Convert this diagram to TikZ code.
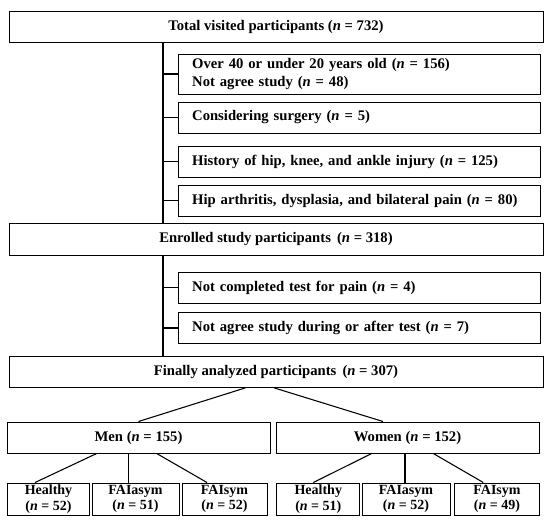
\documentclass[tikz,border=0pt]{standalone}
\usepackage{fontspec}
\setmainfont{Liberation Serif}
\usepackage{tikz}
\usetikzlibrary{calc}

\begin{document}
\begin{tikzpicture}[
    x=0.75pt, y=-0.75pt,
    box/.style={rectangle, draw, line width=0.75pt, align=center, inner sep=0pt, font=\fontsize{11}{13.5}\selectfont\bfseries},
    wide/.style={box, minimum width=400.5pt, minimum height=23pt},
    exbox/.style={box, align=left, text width=251pt, inner xsep=10.5pt, minimum height=23.25pt},
    sub/.style={box, minimum height=24pt, font=\fontsize{10.5}{11.5}\selectfont\bfseries},
    link/.style={line width=0.8pt}
]
\useasboundingbox (0,0) rectangle (550,522);
% main stages
\node[wide] (total) at (276,27) {Total visited participants (\textit{n} = 732)};
\node[wide, minimum height=24pt] (enr) at (276,239) {Enrolled study participants\, (\textit{n} = 318)};
\node[wide] (final) at (276,372) {Finally analyzed participants\, (\textit{n} = 307)};
% exclusions
\node[exbox, minimum height=30pt] (ex1) at (359.5,74) {Over 40 or under 20 years old (\textit{n} = 156)\\Not agree study (\textit{n} = 48)};
\node[exbox] (ex2) at (359.5,117.5) {Considering surgery (\textit{n} = 5)};
\node[exbox] (ex3) at (359.5,161.5) {History of hip, knee, and ankle injury (\textit{n} = 125)};
\node[exbox] (ex4) at (359.5,200.5) {Hip arthritis, dysplasia, and bilateral pain (\textit{n} = 80)};
\node[exbox] (ex5) at (359.5,287.5) {Not completed test for pain (\textit{n} = 4)};
\node[exbox] (ex6) at (359.5,328) {Not agree study during or after test (\textit{n} = 7)};
\coordinate (spine) at (163,0);
% groups
\node[box, minimum width=197.25pt, minimum height=23.25pt] (men) at (138.5,437.5) {Men (\textit{n} = 155)};
\node[box, minimum width=197.25pt, minimum height=23.25pt] (women) at (407.5,437.5) {Women (\textit{n} = 152)};
\node[sub, minimum width=61.5pt] (mh) at (48.5,499) {Healthy\\(\textit{n} = 52)};
\node[sub, minimum width=65.25pt] (ma) at (135.5,499) {FAIasym\\(\textit{n} = 51)};
\node[sub, minimum width=63.75pt] (ms) at (224.5,499) {FAIsym\\(\textit{n} = 52)};
\node[sub, minimum width=62.25pt] (wh) at (318.3,499) {Healthy\\(\textit{n} = 51)};
\node[sub, minimum width=66pt] (wa) at (406,499) {FAIasym\\(\textit{n} = 52)};
\node[sub, minimum width=63.75pt] (ws) at (497,499) {FAIsym\\(\textit{n} = 49)};
% connectors
\draw[link] (total.south -| spine) -- (enr.north -| spine);
\draw[link] (enr.south -| spine) -- (final.north -| spine);
\foreach \e in {ex1,ex2,ex3,ex4,ex5,ex6}
    \draw[link] (\e.west) -- (\e.west -| spine);
\draw[link] ($(final.south)+(-30.5,0)$) -- (men.north);
\draw[link] ($(final.south)+(-2,0)$) -- ($(women.north)+(-24.5,0)$);
\draw[link] ($(men.south)+(-41.8,0)$) -- ($(mh.north)+(-13.5,0)$);
\draw[link] ($(men.south)+(-10.2,0)$) -- ($(ma.north)+(-7.2,0)$);
\draw[link] ($(men.south)+(18.2,0)$) -- ($(ms.north)+(-17.5,0)$);
\draw[link] ($(women.south)+(-35.8,0)$) -- ($(wh.north)+(-5,0)$);
\draw[link] ($(women.south)+(-2.5,0)$) -- ($(wa.north)+(-1,0)$);
\draw[link] ($(women.south)+(25.8,0)$) -- ($(ws.north)+(-13.7,0)$);
\end{tikzpicture}
\end{document}
